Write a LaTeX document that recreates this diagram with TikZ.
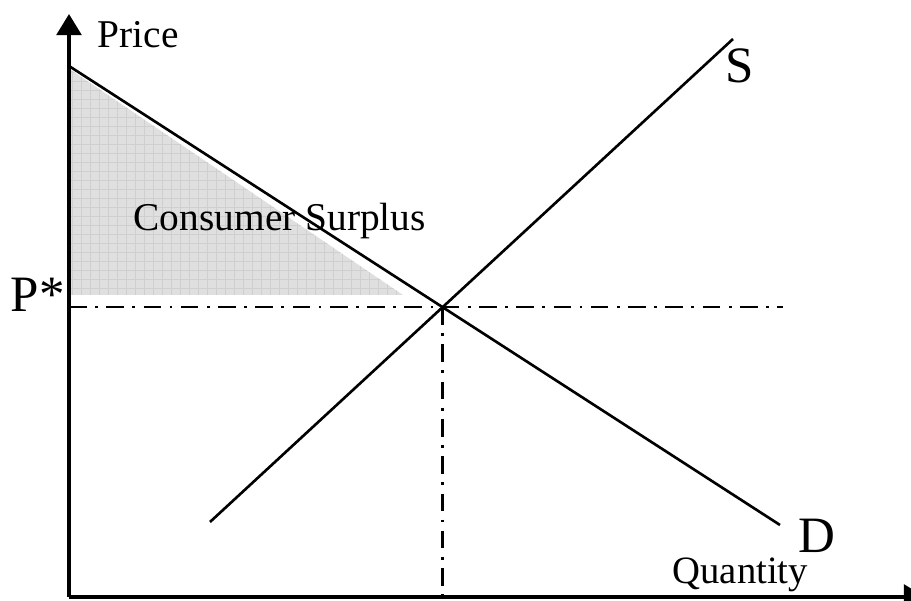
\documentclass[tikz,border=0pt]{standalone}
\usepackage{fontspec}
\setmainfont{Liberation Serif}
\usepackage{tikz}
\usetikzlibrary{positioning,arrows.meta}

\tikzset{
  axis/.style={line width=1.1pt,-{Triangle[length=6pt,width=7pt]}},
  curve/.style={line width=0.75pt},
  guide/.style={line width=0.75pt,dash pattern=on 5pt off 2.4pt on 0.8pt off 2.4pt},
  lbl/.style={inner sep=0pt,anchor=base west,font=\fontsize{11.2}{13}\selectfont},
  big/.style={inner sep=0pt,anchor=base west,font=\fontsize{14.5}{16}\selectfont}
}

\begin{document}
\begin{tikzpicture}[x=0.01cm,y=-0.01cm]
    \useasboundingbox (0,0) rectangle (911,601);
    \coordinate (O) at (69,597);
    \coordinate (d1) at (69,66);
    \coordinate (d2) at (780,525);
    \coordinate (s1) at (210,522);
    \coordinate (s2) at (733,39);
    \coordinate (E) at (intersection of d1--d2 and s1--s2);
    \coordinate (hend) at (783,0);
    \fill[gray!25] (71,70) -- (403,295) -- (71,295) -- cycle;
    \begin{scope}
      \clip (71,70) -- (403,295) -- (71,295) -- cycle;
      \draw[gray!38,line width=0.3pt,step=0.09cm] (60,60) grid (420,300);
    \end{scope}
    \draw[axis] (O) -- (69,14);
    \draw[axis] (O) -- (925,597);
    \draw[curve] (d1) -- (d2);
    \draw[curve] (s1) -- (s2);
    \draw[guide] (O|-E) -- (hend|-E);
    \draw[guide] (E) -- (E|-O);
    \node[lbl] (price) at (97,48) {Price};
    \node[lbl] (cs) at (133,231) {Consumer Surplus};
    \node[lbl,font=\fontsize{11}{13}\selectfont] (qty) at (672,584) {Quantity};
    \node[big] (pstar) at (10,312) {P*};
    \node[big] (slbl) at (725,83) {S};
    \node[big] (dlbl) at (798,553) {D};
\end{tikzpicture}
\end{document}
